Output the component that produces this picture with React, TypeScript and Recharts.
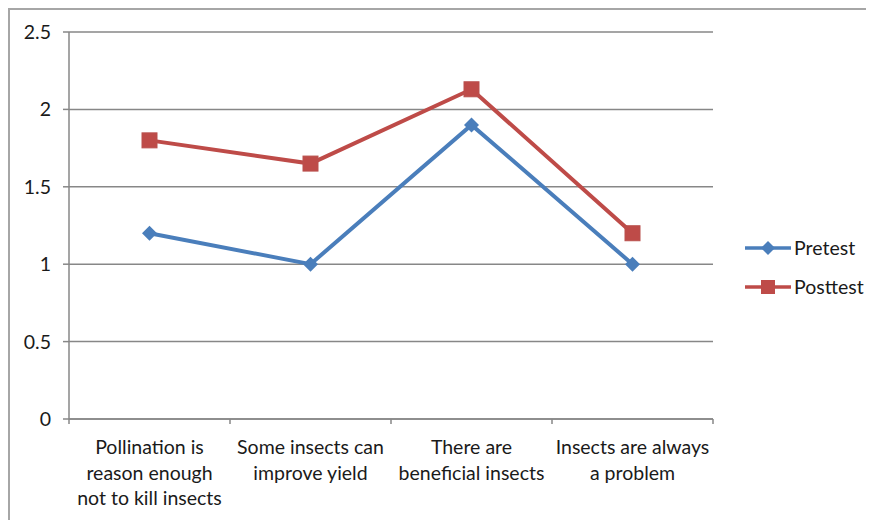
import React from "react";
import {
  LineChart,
  Line,
  XAxis,
  YAxis,
  CartesianGrid,
  Legend,
} from "recharts";

const categories = [
  "Pollination is\nreason enough\nnot to kill insects",
  "Some insects can\nimprove yield",
  "There are\nbeneficial insects",
  "Insects are always\na problem",
];
const pretest = [1.2, 1.0, 1.9, 1.0];
const posttest = [1.8, 1.65, 2.13, 1.2];
const yTicks = [0, 0.5, 1, 1.5, 2, 2.5];

const data = categories.map((c, i) => ({
  name: c,
  Pretest: pretest[i],
  Posttest: posttest[i],
}));

const BLUE = "#4a7ebb";
const RED = "#be4b48";
const GRID = "#878787";
const FONT = "Lato, 'Open Sans', sans-serif";
const FS = 19.5;

const W = 864;
const H = 510;
const M = { top: 22, right: 161, left: 0, bottom: 0 };
const Y_W = 59;
const HALF_BAND = (W - M.right - Y_W) / categories.length / 2;

function Diamond(props: any) {
  const { cx, cy, fill, index } = props;
  if (cx == null || cy == null) return null;
  const r = 7.5;
  return (
    <polygon
      key={`d-${index}`}
      points={`${cx},${cy - r} ${cx + r},${cy} ${cx},${cy + r} ${cx - r},${cy}`}
      fill={fill}
    />
  );
}

function Square(props: any) {
  const { cx, cy, fill, index } = props;
  if (cx == null || cy == null) return null;
  const s = 7.5;
  return (
    <rect
      key={`s-${index}`}
      x={cx - s}
      y={cy - s}
      width={s * 2}
      height={s * 2}
      fill={fill}
      stroke="#b9504d"
      strokeWidth={1}
    />
  );
}

function CategoryTick(props: any) {
  const { x, y, payload, index } = props;
  const lines = String(payload.value).split("\n");
  const axisY = y - 5;
  return (
    <g>
      <line x1={x - HALF_BAND} y1={axisY} x2={x - HALF_BAND} y2={axisY + 5} stroke={GRID} strokeWidth={1.5} />
      {index === categories.length - 1 && (
        <line x1={x + HALF_BAND} y1={axisY} x2={x + HALF_BAND} y2={axisY + 5} stroke={GRID} strokeWidth={1.5} />
      )}
      <text x={x} y={axisY + 35} textAnchor="middle" fontSize={FS} fill="#1a1a1a" fontFamily={FONT}>
        {lines.map((l, i) => (
          <tspan key={i} x={x} dy={i === 0 ? 0 : 25.5}>
            {l}
          </tspan>
        ))}
      </text>
    </g>
  );
}

function LegendContent() {
  const items = [
    { label: "Pretest", color: BLUE, shape: "diamond" },
    { label: "Posttest", color: RED, shape: "square" },
  ];
  return (
    <div style={{ fontFamily: FONT, fontSize: FS, color: "#1a1a1a" }}>
      {items.map((it) => (
        <div key={it.label} style={{ display: "flex", alignItems: "center", height: 39 }}>
          <svg width={48} height={16} style={{ marginRight: 2 }}>
            <line x1={1} y1={8} x2={47} y2={8} stroke={it.color} strokeWidth={3.5} />
            {it.shape === "diamond" ? (
              <polygon points="24,1 31,8 24,15 17,8" fill={it.color} />
            ) : (
              <rect x={17} y={1} width={14} height={14} fill={it.color} />
            )}
          </svg>
          <span>{it.label}</span>
        </div>
      ))}
    </div>
  );
}

export default function App() {
  return (
    <div
      style={{
        width: 880,
        height: 530,
        borderTop: "2px solid #a6a6a6",
        borderLeft: "2px solid #a6a6a6",
        boxSizing: "border-box",
        background: "#fff",
        overflow: "hidden",
      }}
    >
      <style>{`html, body { overflow: hidden; }`}</style>
      <LineChart width={W} height={H} data={data} margin={M}>
        <CartesianGrid vertical={false} stroke={GRID} strokeWidth={1.5} />
        <XAxis
          dataKey="name"
          axisLine={{ stroke: GRID, strokeWidth: 1.5 }}
          tickLine={false}
          tickSize={5}
          tickMargin={0}
          height={101}
          interval={0}
          padding={{ left: HALF_BAND, right: HALF_BAND }}
          tick={<CategoryTick />}
        />
        <YAxis
          domain={[0, 2.5]}
          ticks={yTicks}
          width={Y_W}
          axisLine={{ stroke: GRID, strokeWidth: 1.5 }}
          tickLine={{ stroke: GRID, strokeWidth: 1.5 }}
          tickSize={6}
          tickMargin={12}
          tick={{ fontSize: FS, fill: "#1a1a1a", fontFamily: FONT }}
        />
        <Legend
          layout="vertical"
          align="center"
          verticalAlign="middle"
          wrapperStyle={{ left: 734, top: 218, width: 130 }}
          content={<LegendContent />}
        />
        <Line
          type="linear"
          dataKey="Pretest"
          stroke={BLUE}
          strokeWidth={4}
          dot={<Diamond fill={BLUE} />}
          activeDot={false}
          isAnimationActive={false}
        />
        <Line
          type="linear"
          dataKey="Posttest"
          stroke={RED}
          strokeWidth={4}
          dot={<Square fill={RED} />}
          activeDot={false}
          isAnimationActive={false}
        />
      </LineChart>
    </div>
  );
}
